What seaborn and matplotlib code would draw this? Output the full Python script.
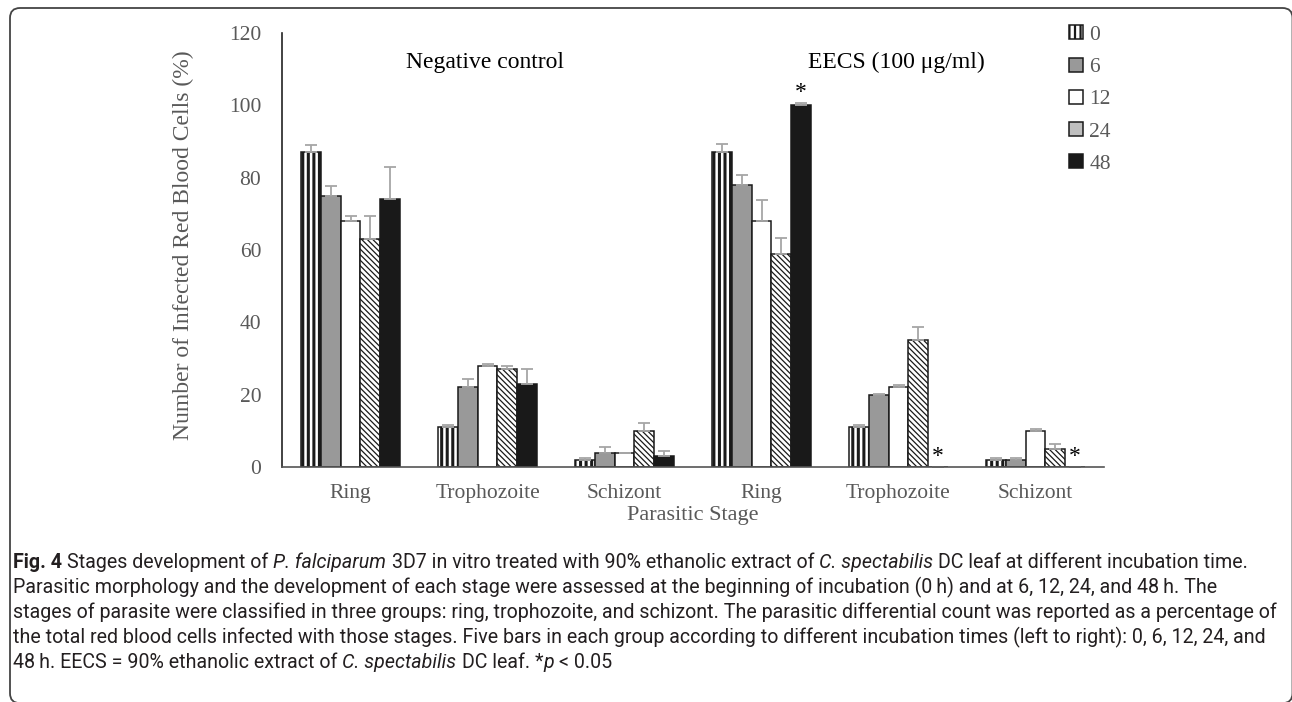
import numpy as np
import pandas as pd
import seaborn as sns
import matplotlib.pyplot as plt
from matplotlib.patches import Patch, FancyBboxPatch

# values: % of infected RBC (mean) and upper error bar
groups = ['Negative control'] * 3 + ['EECS (100 μg/ml)'] * 3
stages = ['Ring', 'Trophozoite', 'Schizont', 'Ring', 'Trophozoite', 'Schizont']
hours = ['0', '6', '12', '24', '48']
mean_0 = [87, 11, 2, 87, 11, 2]
mean_6 = [75, 22, 4, 78, 20, 2]
mean_12 = [68, 28, 4, 68, 22, 10]
mean_24 = [63, 27, 10, 59, 35, 5]
mean_48 = [74, 23, 3, 100, 0, 0]
err_0 = [2.0, 0.7, 0.6, 2.2, 0.7, 0.6]
err_6 = [2.8, 2.2, 1.4, 2.8, 0.2, 0.6]
err_12 = [1.4, 0.6, 0.0, 5.8, 0.7, 0.6]
err_24 = [6.5, 0.8, 2.1, 4.3, 3.6, 1.4]
err_48 = [9.0, 4.2, 1.4, 0.7, 0.0, 0.0]
# bars marked with * (stage column, hour)
starred = [(3, '48'), (4, '48'), (5, '48')]

means = [mean_0, mean_6, mean_12, mean_24, mean_48]
errs = [err_0, err_6, err_12, err_24, err_48]

slots = [f'{g}|{s}|{i}' for i, (g, s) in enumerate(zip(groups, stages))]
rows = []
for h, m, e in zip(hours, means, errs):
    for slot, v, ev in zip(slots, m, e):
        rows.append(dict(slot=slot, hour=h, value=v, err=ev))
df = pd.DataFrame(rows)

serif = 'Liberation Serif'
grey_txt = '#595959'
ink = '#1a1a1a'
plt.rcParams['hatch.linewidth'] = 1.6

fills = {'0': 'white', '6': '#999999', '12': 'white', '24': 'white', '48': '#191919'}
hatches = {'0': '|||', '6': '', '12': '', '24': '\\' * 6, '48': ''}

fig = plt.figure(figsize=(12.92, 7.02), dpi=100)
ax = fig.add_axes([282 / 1292, 1 - 467 / 702, 822 / 1292, 434 / 702])

sns.barplot(data=df, x='slot', y='value', hue='hour', order=slots, hue_order=hours,
            palette=fills, width=0.72, errorbar=None, saturation=1,
            edgecolor=ink, linewidth=1.1, legend=False, ax=ax)

for cont, h in zip(ax.containers, hours):
    sub = df[df.hour == h].set_index('slot').loc[slots]
    xs = [b.get_x() + b.get_width() / 2 for b in cont]
    tops = [b.get_height() for b in cont]
    for b in cont:
        b.set_hatch(hatches[h])
        if hasattr(b, 'set_hatch_linewidth'):
            if h == '0':
                b.set_hatch_linewidth(2.2)
            elif h == '24':
                b.set_hatch_linewidth(0.9)
    ax.errorbar(xs, tops, yerr=[np.zeros(len(xs)), sub['err'].values], fmt='none',
                ecolor='#a6a6a6', elinewidth=1.3, capsize=4.5, capthick=1.3, zorder=1)
    for i, hh in starred:
        if hh == h:
            ax.text(xs[i], tops[i] + sub['err'].values[i] + 2.8, '*', ha='center', va='center',
                    fontsize=17, family=serif, color='black')

ax.set_xlim(-0.5, len(stages) - 0.5)
ax.set_ylim(0, 120)
ax.set_yticks(range(0, 121, 20))
ax.set_xticks(range(len(stages)))
ax.set_xticklabels(stages)
ax.tick_params(axis='both', length=0, labelsize=15.5, labelcolor=grey_txt)
ax.tick_params(axis='x', pad=12)
ax.tick_params(axis='y', pad=15)
for lab in ax.get_xticklabels() + ax.get_yticklabels():
    lab.set_family(serif)
for s in ['top', 'right']:
    ax.spines[s].set_visible(False)
ax.spines['left'].set_color('#222222')
ax.spines['bottom'].set_color('#555555')
ax.spines['left'].set_linewidth(1.2)
ax.spines['bottom'].set_linewidth(1.2)

ax.set_ylabel('Number of Infected Red Blood Cells (%)', fontsize=17, family=serif, color=grey_txt)
ax.yaxis.set_label_coords(-0.107, 0.51)
ax.set_xlabel('Parasitic Stage', fontsize=16, family=serif, color=grey_txt)
ax.xaxis.set_label_coords(0.5, -0.09)

ax.text(0.247, 0.933, 'Negative control', transform=ax.transAxes, ha='center', va='center',
        fontsize=17, family=serif, color='black')
ax.text(0.747, 0.933, 'EECS (100 μg/ml)', transform=ax.transAxes, ha='center', va='center',
        fontsize=17, family=serif, color='black')

handles = [Patch(facecolor='white', edgecolor=ink, hatch='|||', linewidth=1.1),
           Patch(facecolor='#999999', edgecolor=ink, linewidth=1.1),
           Patch(facecolor='white', edgecolor=ink, linewidth=1.1),
           Patch(facecolor='#bfbfbf', edgecolor=ink, linewidth=1.1),
           Patch(facecolor='#191919', edgecolor=ink, linewidth=1.1)]
fig.legend(handles, hours, loc='upper left', bbox_to_anchor=(1050 / 1292, 1 - 6 / 702),
           frameon=False, prop={'family': serif, 'size': 15.5}, labelcolor=grey_txt,
           handlelength=0.62, handleheight=0.62, handletextpad=0.3, labelspacing=0.59)

# caption
cap_font = ['Liberation Sans Narrow', 'Roboto', 'DejaVu Sans']
cap_lines = [
    [('Fig. 4', 'bold'), (' Stages development of', 'normal'), (' P. falciparum', 'italic'),
     (' 3D7 in vitro treated with 90% ethanolic extract of', 'normal'), (' C. spectabilis', 'italic'),
     (' DC leaf at different incubation time.', 'normal')],
    [('Parasitic morphology and the development of each stage were assessed at the beginning '
      'of incubation (0\u2009h) and at 6, 12, 24, and 48\u2009h. The', 'normal')],
    [('stages of parasite were classified in three groups: ring, trophozoite, and schizont. '
      'The parasitic differential count was reported as a percentage of', 'normal')],
    [('the total red blood cells infected with those stages. Five bars in each group according '
      'to different incubation times (left to right): 0, 6, 12, 24, and', 'normal')],
    [('48\u2009h. EECS = 90% ethanolic extract of', 'normal'), (' C. spectabilis', 'italic'),
     (' DC leaf. *', 'normal'), ('p', 'italic'), (' < 0.05', 'normal')],
]


def style_kw(st, size):
    kw = dict(fontsize=size, family=cap_font, color='#231f20')
    if st == 'bold':
        kw['fontweight'] = 'bold'
    if st == 'italic':
        kw['fontstyle'] = 'italic'
    return kw


rend = fig.canvas.get_renderer()


def line_width(pieces, size):
    total = 0
    for txt, st in pieces:
        t = fig.text(0, 0, txt.strip(), **style_kw(st, size))
        total += t.get_window_extent(rend).width
        t.remove()
        if txt.startswith(' '):
            total += 0.26 * size * 100 / 72
    return total


cap_size = 12 * 1264 / max(line_width(p, 12) for p in cap_lines)
base_y = [568, 593, 618, 643, 668]
for yb, pieces in zip(base_y, cap_lines):
    prev = None
    for txt, st in pieces:
        gap = 0.26 * cap_size if txt.startswith(' ') else 0
        if prev is None:
            prev = fig.text(13 / 1292, 1 - yb / 702, txt.strip(), va='baseline',
                            **style_kw(st, cap_size))
        else:
            prev = plt.annotate(txt.strip(), xy=(1, 0), xycoords=prev, xytext=(gap, 0),
                                textcoords='offset points', va='bottom', annotation_clip=False,
                                **style_kw(st, cap_size))

# rounded frame around the whole figure (bottom edge just off the page)
frame = FancyBboxPatch((0.10, -0.012), 12.825, 7.02 - 0.08 + 0.012,
                       boxstyle='round,pad=0,rounding_size=0.1',
                       transform=fig.dpi_scale_trans, facecolor='none',
                       edgecolor='#444444', linewidth=1.3, clip_on=False)
fig.patches.append(frame)

fig.savefig('out.png', dpi=100)
